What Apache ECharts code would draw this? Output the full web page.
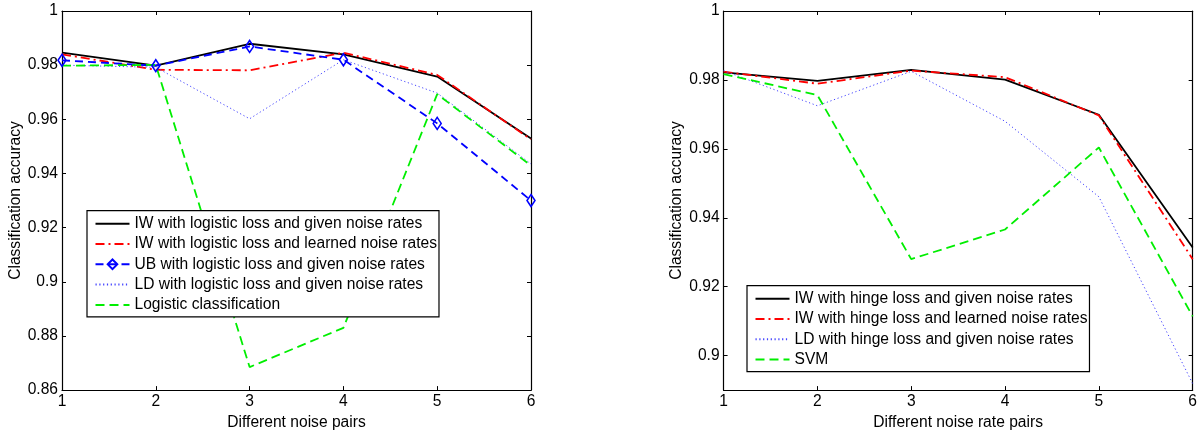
<!DOCTYPE html>
<html>
<head>
<meta charset="utf-8">
<script src="https://cdn.jsdelivr.net/npm/echarts@6/dist/echarts.min.js"></script>
<style>
html,body{margin:0;padding:0;background:#fff;}
#chart{width:1200px;height:436px;}
</style>
</head>
<body>
<div id="chart"></div>
<script>
// ---- data ----
const xTicks = [1, 2, 3, 4, 5, 6];
const leftYTicks = [0.86, 0.88, 0.9, 0.92, 0.94, 0.96, 0.98, 1];
const rightYTicks = [0.9, 0.92, 0.94, 0.96, 0.98, 1];

const leftNames = [
  'IW with logistic loss and given noise rates',
  'IW with logistic loss and learned noise rates',
  'UB with logistic loss and given noise rates',
  'LD with logistic loss and given noise rates',
  'Logistic classification'
];
const leftIWGiven   = [0.9846, 0.9798, 0.9879, 0.9840, 0.9758, 0.9529];
const leftIWLearned = [0.9840, 0.9783, 0.9781, 0.9846, 0.9764, 0.9526];
const leftUB        = [0.9818, 0.9798, 0.9869, 0.9820, 0.9585, 0.9300];
const leftLD        = [0.9800, 0.9792, 0.9602, 0.9820, 0.9697, 0.9435];
const leftLogistic  = [0.9798, 0.9801, 0.8685, 0.8830, 0.9693, 0.9429];

const rightNames = [
  'IW with hinge loss and given noise rates',
  'IW with hinge loss and learned noise rates',
  'LD with hinge loss and given noise rates',
  'SVM'
];
const rightIWGiven   = [0.9822, 0.9797, 0.9829, 0.9801, 0.9699, 0.9314];
const rightIWLearned = [0.9824, 0.9789, 0.9827, 0.9808, 0.9697, 0.9280];
const rightLD        = [0.9827, 0.9725, 0.9825, 0.9680, 0.9461, 0.8919];
const rightSVM       = [0.9817, 0.9756, 0.9280, 0.9366, 0.9604, 0.9114];

// ---- styles ----
const FONT = 'Liberation Sans, Arial, sans-serif';
const FS = 15.6;
const styles = {
  solid:   {color: '#000000', lineStyle: {color: '#000000', width: 1.8, type: 'solid'}},
  dashdot: {color: '#ff0000', lineStyle: {color: '#ff0000', width: 1.8, type: [9, 4, 2, 4]}},
  dashedB: {color: '#0000ff', lineStyle: {color: '#0000ff', width: 1.8, type: [8, 5]}},
  dotted:  {color: '#4444ff', lineStyle: {color: '#4444ff', width: 1, type: [1.2, 2.6]}},
  dashedG: {color: '#00ee00', lineStyle: {color: '#00ee00', width: 1.8, type: [9, 5]}}
};

function pairs(vals) { return xTicks.map((x, i) => [x, vals[i]]); }
function mkSeries(name, vals, st, idx, marker) {
  const s = {
    name: name, type: 'line', xAxisIndex: idx * 2, yAxisIndex: idx * 2,
    data: pairs(vals), color: st.color, lineStyle: st.lineStyle,
    symbol: 'none', animation: false, z: 2
  };
  if (marker) {
    s.symbol = 'diamond';
    s.symbolSize = [8, 12];
    s.showSymbol = true;
    s.itemStyle = {color: 'rgba(255,255,255,0)', borderColor: st.color, borderWidth: 1.6};
  }
  return s;
}
const fmt = v => String(+(+v).toFixed(2));

function xAxes(gi) {
  const base = {
    type: 'value', gridIndex: gi, min: 1, max: 6, interval: 1,
    axisLine: {show: true, lineStyle: {color: '#000', width: 1.2}},
    axisTick: {show: true, inside: true, length: 4, lineStyle: {color: '#000'}},
    splitLine: {show: false}
  };
  return [
    Object.assign({}, base, {
      position: 'bottom',
      axisLabel: {show: true, color: '#000', fontFamily: FONT, fontSize: FS, margin: 4},
      name: gi === 0 ? 'Different noise pairs' : 'Different noise rate pairs',
      nameLocation: 'middle', nameGap: 20,
      nameTextStyle: {color: '#000', fontFamily: FONT, fontSize: FS}
    }),
    Object.assign({}, base, {position: 'top', axisLabel: {show: false}})
  ];
}
function yAxes(gi, ticks, min) {
  const base = {
    type: 'value', gridIndex: gi, min: min, max: 1,
    axisLine: {show: true, lineStyle: {color: '#000', width: 1.2}},
    axisTick: {show: true, inside: true, length: 4, customValues: ticks, lineStyle: {color: '#000'}},
    splitLine: {show: false}
  };
  return [
    Object.assign({}, base, {
      position: 'left',
      axisLabel: {show: true, color: '#000', fontFamily: FONT, fontSize: FS, margin: 4,
                  customValues: ticks, formatter: fmt},
      name: 'Classification accuracy', nameLocation: 'middle', nameGap: 38.5,
      nameTextStyle: {color: '#000', fontFamily: FONT, fontSize: FS}
    }),
    Object.assign({}, base, {position: 'right', axisLabel: {show: false}})
  ];
}

function legend(names, markerIdx, left, top) {
  return {
    data: names.map((n, i) => i === markerIdx ? {name: n} : {name: n, itemStyle: {opacity: 0}}),
    orient: 'vertical', left: left, top: top,
    itemWidth: 34, itemHeight: 12, itemGap: 4.3,
    padding: [5, 2, 4, 7.5],
    backgroundColor: '#fff', borderColor: '#000', borderWidth: 1.2, borderRadius: 0,
    textStyle: {color: '#000', fontFamily: FONT, fontSize: FS},
    selectedMode: false
  };
}

const chart = echarts.init(document.getElementById('chart'), null, {renderer: 'canvas'});
chart.setOption({
  animation: false,
  backgroundColor: '#fff',
  grid: [
    {left: 62, top: 11, width: 469, height: 386, show: false},
    {left: 723.6, top: 11, width: 469.4, height: 386, show: false}
  ],
  xAxis: xAxes(0).concat(xAxes(1)),
  yAxis: yAxes(0, leftYTicks, 0.86).concat(yAxes(1, rightYTicks, 0.89)),
  legend: [legend(leftNames, 2, 87, 210.7), legend(rightNames, -1, 747, 285.7)],
  series: [
    mkSeries(leftNames[0], leftIWGiven, styles.solid, 0),
    mkSeries(leftNames[1], leftIWLearned, styles.dashdot, 0),
    mkSeries(leftNames[2], leftUB, styles.dashedB, 0, true),
    mkSeries(leftNames[3], leftLD, styles.dotted, 0),
    mkSeries(leftNames[4], leftLogistic, styles.dashedG, 0),
    mkSeries(rightNames[0], rightIWGiven, styles.solid, 1),
    mkSeries(rightNames[1], rightIWLearned, styles.dashdot, 1),
    mkSeries(rightNames[2], rightLD, styles.dotted, 1),
    mkSeries(rightNames[3], rightSVM, styles.dashedG, 1)
  ]
});
</script>
</body>
</html>
